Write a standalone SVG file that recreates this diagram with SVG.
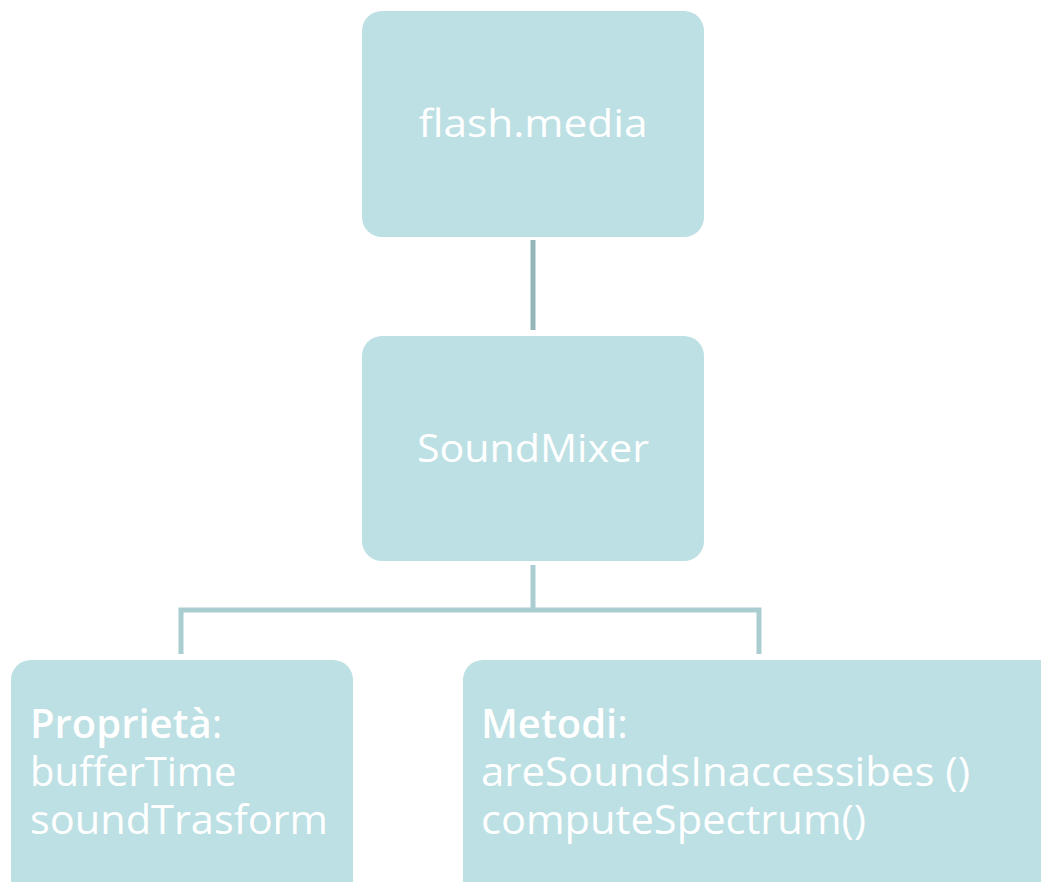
<svg xmlns="http://www.w3.org/2000/svg" width="1041" height="882" viewBox="0 0 1041 882">
<style>
.box{fill:#bce0e3}
.t{fill:#ffffff;font-family:"Open Sans","Noto Sans",sans-serif;font-weight:400}
.b{font-weight:600}
.c1{stroke:#94b6ba;stroke-width:5;fill:none}
.c2{stroke:#a9cdd0;stroke-width:5;fill:none}
</style>
<rect width="1041" height="882" fill="#ffffff"/>
<g id="connectors">
<line class="c1" x1="533" y1="240" x2="533" y2="330"/>
<path class="c2" d="M533 565 V610 M181 654 V610 H759 V654"/>
</g>
<g id="node-flash-media">
<rect class="box" x="362" y="11" width="342" height="226" rx="20"/>
<text class="t" x="533" y="137" font-size="38" text-anchor="middle" textLength="229" lengthAdjust="spacingAndGlyphs">flash.media</text>
</g>
<g id="node-soundmixer">
<rect class="box" x="362" y="336" width="342" height="225" rx="20"/>
<text class="t" x="533" y="462" font-size="38" text-anchor="middle" textLength="232" lengthAdjust="spacingAndGlyphs">SoundMixer</text>
</g>
<g id="node-proprieta">
<rect class="box" x="11" y="660" width="342" height="250" rx="20"/>
<text class="t" font-size="40"><tspan x="30" y="738"><tspan class="b">Proprietà</tspan>:</tspan><tspan x="30" y="786">bufferTime</tspan><tspan x="30" y="834" textLength="298" lengthAdjust="spacingAndGlyphs">soundTrasform</tspan></text>
</g>
<g id="node-metodi">
<rect class="box" x="463" y="660" width="620" height="250" rx="20"/>
<text class="t" font-size="40"><tspan x="481" y="738"><tspan class="b">Metodi</tspan>:</tspan><tspan x="481" y="786" textLength="489" lengthAdjust="spacingAndGlyphs">areSoundsInaccessibes ()</tspan><tspan x="481" y="834" textLength="385" lengthAdjust="spacingAndGlyphs">computeSpectrum()</tspan></text>
</g>
</svg>
